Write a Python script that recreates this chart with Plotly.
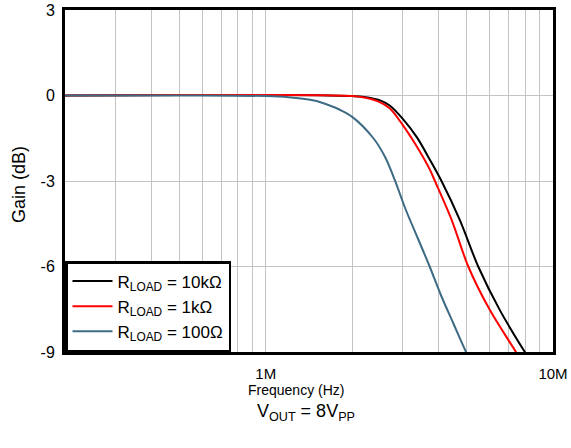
import numpy as np
import plotly.graph_objects as go

# ---- data ----
freq_10k = [2e5, 5e5, 1e6, 1.5e6, 2e6, 2.2e6, 2.5e6, 2.7e6, 3e6, 3.36e6, 3.73e6, 4.09e6, 4.74e6, 5.49e6, 6.53e6, 7.98e6, 9e6]
gain_10k = [0.0, 0.02, 0.02, 0.01, -0.02, -0.05, -0.17, -0.35, -0.82, -1.47, -2.26, -3.0, -4.37, -6.0, -7.53, -9.0, -9.8]

freq_1k = [2e5, 5e5, 1e6, 1.5e6, 2e6, 2.2e6, 2.45e6, 2.7e6, 3e6, 3.36e6, 3.73e6, 3.88e6, 4.44e6, 5.07e6, 6.03e6, 7.43e6, 8.5e6]
gain_1k = [0.0, 0.02, 0.02, 0.01, -0.02, -0.07, -0.2, -0.45, -1.04, -1.8, -2.61, -3.0, -4.37, -6.0, -7.53, -9.0, -10.0]

freq_100 = [2e5, 5e5, 1e6, 1.2e6, 1.46e6, 1.67e6, 1.81e6, 2e6, 2.37e6, 2.6e6, 2.81e6, 3.07e6, 3.38e6, 3.72e6, 4.07e6, 4.5e6, 4.98e6, 5.5e6]
gain_100 = [0.0, 0.0, -0.02, -0.06, -0.17, -0.35, -0.5, -0.75, -1.5, -2.15, -2.95, -4.0, -5.0, -6.0, -7.0, -8.0, -9.0, -9.9]

series_names = ["R<sub>LOAD</sub> = 10kΩ", "R<sub>LOAD</sub> = 1kΩ", "R<sub>LOAD</sub> = 100Ω"]
series_colors = ["#000000", "#ff0000", "#3d6b84"]

x_grid_vals = [3e5, 4e5, 5e5, 6e5, 7e5, 8e5, 9e5, 1e6, 2e6, 3e6, 4e6, 5e6, 6e6, 7e6, 8e6, 9e6, 1e7]
x_grid_text = ["", "", "", "", "", "", "", "1M", "", "", "", "", "", "", "", "", "10M"]
y_tick_vals = [3, 0, -3, -6, -9]
y_tick_text = ["3", "0", "-3", "-6", "-9"]

FONT = "Liberation Sans, Arial, sans-serif"

fig = go.Figure()
for f, g, name, col in zip([freq_10k, freq_1k, freq_100], [gain_10k, gain_1k, gain_100], series_names, series_colors):
    fig.add_trace(go.Scatter(x=f, y=g, mode="lines", name=name,
                             line=dict(color=col, width=2, shape="spline", smoothing=0.9)))

fig.update_layout(
    width=571, height=448,
    margin=dict(l=65, r=18, t=10, b=96),
    paper_bgcolor="white", plot_bgcolor="white",
    font=dict(family=FONT, size=14, color="black"),
    showlegend=True,
    legend=dict(x=0, y=0, xanchor="left", yanchor="bottom",
                bgcolor="white", bordercolor="black", borderwidth=2.5,
                font=dict(family=FONT, size=17, color="black"),
                tracegroupgap=0, itemwidth=40),
)
fig.update_xaxes(type="log", range=[np.log10(2e5), 7],
                 tickvals=x_grid_vals, ticktext=x_grid_text,
                 showgrid=True, gridcolor="#c4c4c4", gridwidth=1,
                 showline=True, linecolor="black", linewidth=3, mirror=True,
                 ticks="", ticklabelstandoff=6, zeroline=False, automargin=False,
                 tickfont=dict(family=FONT, size=15))
fig.update_yaxes(range=[-9, 3], tickvals=y_tick_vals, ticktext=y_tick_text,
                 showgrid=True, gridcolor="#c4c4c4", gridwidth=1,
                 showline=True, linecolor="black", linewidth=3, mirror=True,
                 ticks="", ticklabelstandoff=4, zeroline=False, automargin=False,
                 tickfont=dict(family=FONT, size=16))

fig.add_annotation(text="Frequency (Hz)", xref="paper", yref="paper",
                   x=(296 - 65) / 488, y=-(390 - 352) / 342, xanchor="center", yanchor="middle",
                   showarrow=False, font=dict(family=FONT, size=14))
fig.add_annotation(text="Gain (dB)", xref="paper", yref="paper", textangle=-90,
                   x=-(65 - 19) / 488, y=(352 - 185) / 342, xanchor="center", yanchor="middle",
                   showarrow=False, font=dict(family=FONT, size=18))
fig.add_annotation(text="V<sub>OUT</sub> = 8V<sub>PP</sub>", xref="paper", yref="paper",
                   x=(306 - 65) / 488, y=-(412 - 352) / 342, xanchor="center", yanchor="middle",
                   showarrow=False, font=dict(family=FONT, size=18))

fig.write_html("out.html")
